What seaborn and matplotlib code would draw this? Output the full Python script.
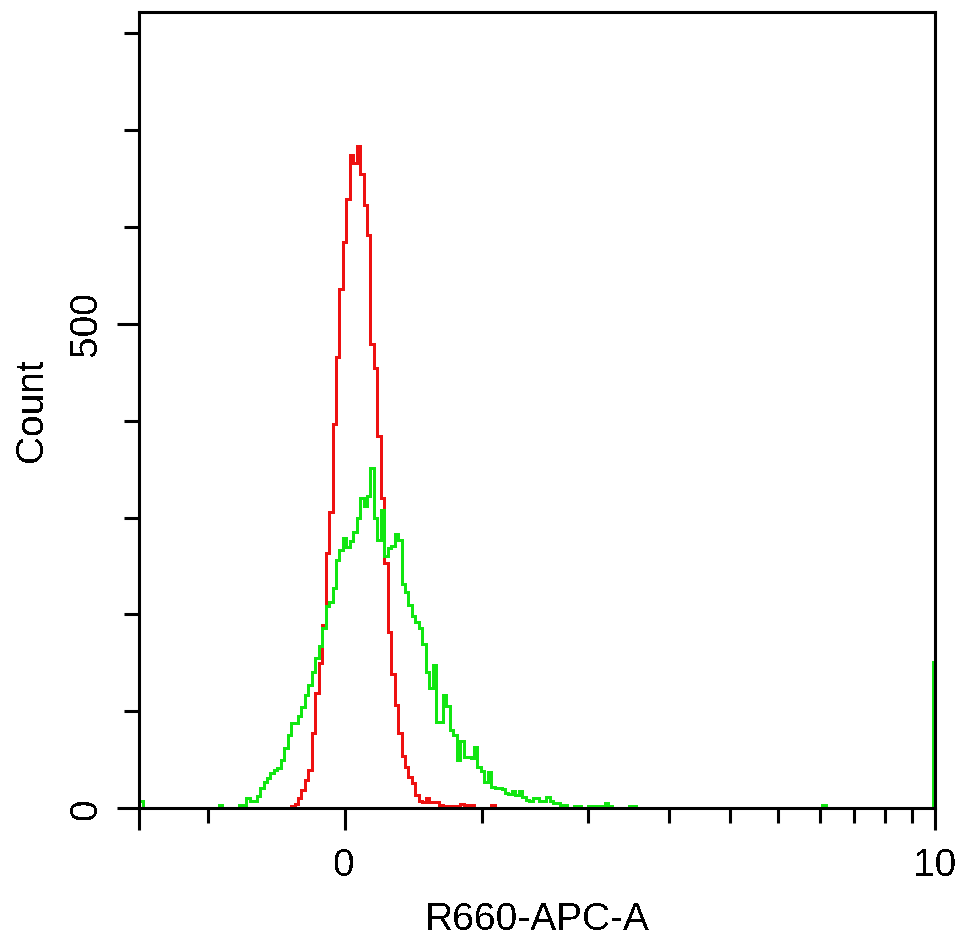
import numpy as np
import pandas as pd
import matplotlib
matplotlib.use("Agg")
import matplotlib.pyplot as plt
import seaborn as sns

# ---------------- data (one histogram bin per display channel) ----------------
n_bins = 231

red_bins = list(range(44, 103))
red_counts = [2, 4, 11, 19, 29, 39, 78, 119, 150, 189,
              263, 306, 397, 466, 536, 584, 629, 674, 666, 683,
              654, 622, 592, 479, 454, 384, 320, 253, 182, 139,
              107, 78, 54, 43, 32, 26, 14, 8, 6, 11,
              6, 6, 6, 3, 2, 2, 2, 2, 0, 4,
              0, 3, 3, 0, 0, 0, 0, 0, 3]

green_bins = [0, 23] + list(range(29, 137)) + [142, 143, 198, 230]
green_counts = [7, 3,
                3, 3, 11, 7, 7, 13, 21, 27, 31, 36,
                39, 42, 50, 62, 76, 88, 88, 95, 104, 117,
                127, 141, 155, 167, 186, 209, 213, 227, 256, 267,
                279, 270, 276, 285, 300, 320, 312, 322, 351, 300,
                277, 308, 260, 269, 271, 283, 277, 231, 223, 210,
                198, 192, 186, 169, 141, 124, 148, 89, 89, 117,
                106, 81, 76, 50, 69, 53, 53, 52, 63, 43,
                38, 27, 37, 22, 21, 21, 20, 16, 15, 18,
                14, 18, 12, 9, 7, 11, 11, 8, 8, 12,
                8, 5, 5, 3, 3, 0, 0, 2, 2, 0,
                0, 2, 2, 2, 2, 2, 5, 2,
                2, 2, 3, 151]

x_major_ticks = [0, 59.48, 230.65]
x_major_labels = ["", "0", "10"]
x_minor_ticks = [19.77, 99.33, 130.2, 153.4, 171.3, 185.1, 197.3, 207.2, 216.1, 224.1]
y_major_ticks = [0, 500]
y_major_labels = ["0", "500"]
y_minor_ticks = [100, 200, 300, 400, 600, 700, 800]
x_label = "R660-APC-A"
y_label = "Count"

red_color = "#ee1111"
green_color = "#11e611"

# ---------------- build step series ----------------
def full_hist(bins, counts):
    h = np.zeros(n_bins)
    h[np.array(bins)] = np.array(counts, dtype=float)
    edges = np.arange(n_bins + 1)
    vals = np.append(h, h[-1])
    return pd.DataFrame({"channel": edges, "count": vals})

red_df = full_hist(red_bins, red_counts)
green_df = full_hist(green_bins, green_counts)

# ---------------- style ----------------
sns.set_theme(style="ticks")
plt.rcParams["font.family"] = ["Liberation Sans", "DejaVu Sans"]
plt.rcParams["text.antialiased"] = False

fig = plt.figure(figsize=(9.57, 9.38), dpi=100)
ax = fig.add_axes([0.1456, 0.1383, 0.8314, 0.8489])

sns.lineplot(data=red_df, x="channel", y="count", drawstyle="steps-post",
             color=red_color, linewidth=1.8, antialiased=False, ax=ax,
             estimator=None, sort=False)
sns.lineplot(data=green_df, x="channel", y="count", drawstyle="steps-post",
             color=green_color, linewidth=1.8, antialiased=False, ax=ax,
             estimator=None, sort=False)

ax.set_xlim(0, 230.65)
ax.set_ylim(0, 821.6)

for s in ax.spines.values():
    s.set_visible(True)
    s.set_linewidth(2.2)
    s.set_color("black")

ax.set_xticks(x_major_ticks)
ax.set_xticklabels(x_major_labels)
ax.set_xticks(x_minor_ticks, minor=True)
ax.set_yticks(y_major_ticks)
ax.set_yticklabels(y_major_labels, rotation=90, va="center")
ax.set_yticks(y_minor_ticks, minor=True)

ax.tick_params(which="major", direction="out", length=15.8, width=2.2,
               color="black", labelsize=28, labelcolor="black")
ax.tick_params(which="minor", direction="out", length=10.8, width=2.2,
               color="black")
ax.tick_params(axis="x", which="major", pad=13)
ax.tick_params(axis="y", which="major", pad=9)

ax.set_xlabel(x_label, fontsize=28, color="black")
ax.set_ylabel(y_label, fontsize=28, color="black")
ax.xaxis.set_label_coords(0.5, -0.1173)
ax.yaxis.set_label_coords(-0.1125, 0.5)
ax.xaxis.label.set_va("top")

fig.savefig("out.png", dpi=100, facecolor="white")
